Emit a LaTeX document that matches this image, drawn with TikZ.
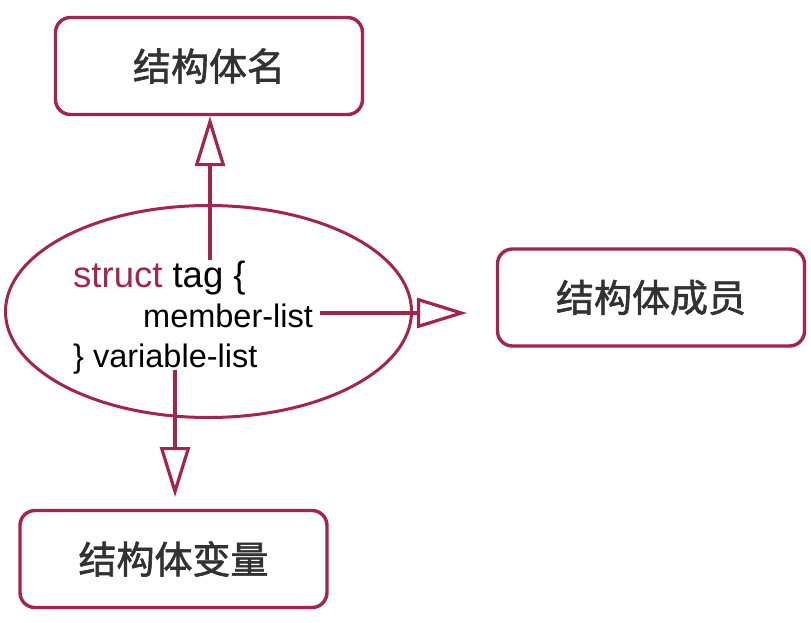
\documentclass[tikz,border=0pt]{standalone}
\usepackage{fontspec}
\setmainfont{Liberation Sans}
\newfontfamily\cjk[FakeBold=1.6]{Noto Sans CJK SC}
\usetikzlibrary{shapes.geometric,arrows.meta,shadows}
\definecolor{crim}{RGB}{165,36,74}
\definecolor{txtgray}{RGB}{50,50,50}
\tikzset{
  box/.style={draw=crim, line width=3.4pt, rounded corners=15pt, fill=white,
    minimum width=307pt, minimum height=97pt, inner sep=0pt,
    font=\cjk\fontsize{38}{44}\selectfont, text=txtgray,
    drop shadow={shadow xshift=0.8pt, shadow yshift=-1.2pt, opacity=0.25, fill=black!60}},
  oval/.style={draw=crim, line width=3pt, ellipse, minimum width=406pt,
    minimum height=212pt, inner sep=0pt},
  conn/.style={draw=crim, line width=3.2pt,
    -{Triangle[open, length=50pt, width=30pt, line width=3.2pt]}},
  code/.style={anchor=base west, inner sep=0pt, text=black},
}
\begin{document}
\begin{tikzpicture}[x=1pt,y=-1pt]
\useasboundingbox (0,0) rectangle (811,622);
\fill[white] (0,0) rectangle (811,622);
\node[oval] (ell) at (208.5,311.5) {};
\node[box] (b1) at (209,66) {结构体名};
\node[box] (b2) at (651,297.5) {结构体成员};
\node[box] (b3) at (173.5,559) {结构体变量};
\node[code, font=\fontsize{36.5}{40}\selectfont] (l1) at (73,287) {\textcolor{crim}{struct} tag \{};
\node[code, font=\fontsize{32.5}{40}\selectfont] (l2) at (143,327) {member-list};
\node[code, font=\fontsize{32.5}{40}\selectfont] (l3) at (73,367) {\} variable-list};
\coordinate (s1) at (210,260);
\coordinate (s2) at (320,313);
\coordinate (e2) at (467,313);
\coordinate (s3) at (175,370);
\coordinate (e3) at (175,497);
\draw[conn] (s1) -- (s1 |- b1.south);
\draw[conn] (s2) -- (e2);
\draw[conn] (s3) -- (e3);
\end{tikzpicture}
\end{document}
